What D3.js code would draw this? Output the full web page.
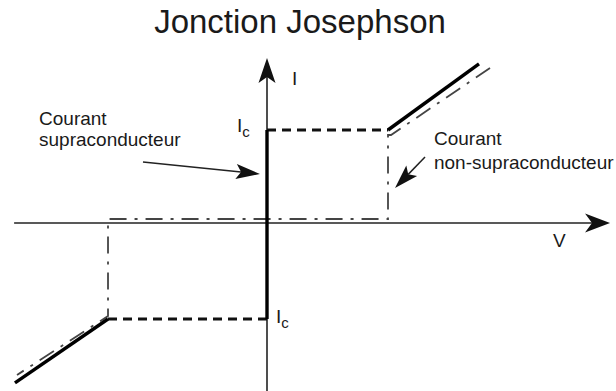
<!DOCTYPE html>
<html>
<head>
<meta charset="utf-8">
<script src="https://cdn.jsdelivr.net/npm/d3@7"></script>
<style>
  body { margin: 0; background: #fff; }
  svg { display: block; }
  text { font-family: "Liberation Sans", Arial, sans-serif; fill: #1a1a1a; }
</style>
</head>
<body>
<svg id="chart" width="616" height="391"></svg>
<script>
// Josephson junction I-V characteristic.
// Units are normalized: V in units of the gap voltage, I in units of Ic.
const title = "Jonction Josephson";

const vAxisExtent = [-2.09, 2.835];
const iAxisExtent = [-1.81, 1.774];

// zero-voltage supercurrent branch
const superBranch = [[0, -1.032], [0, 1]];
// critical-current switching (dashed)
const icUpper = [[0, 1], [1, 1]];
const icLower = [[-1.314, -1.032], [0, -1.032]];
// ohmic quasiparticle branches (solid)
const ohmicUpper = [[1, 1], [1.752, 1.71]];
const ohmicLower = [[-1.314, -1.032], [-2.083, -1.72]];
// quasiparticle (non-superconducting) curve, dash-dot
const quasiBranch = [
  [1.843, 1.667], [1.025, 0.946], [1, 0.946], [1, 0.043],
  [-1.314, 0.043], [-1.314, -1.0], [-2.066, -1.634]
];

// annotation arrows: [start, tip]
const arrowSuper = [[-1.025, 0.656], [-0.058, 0.527]];
const arrowNormal = [[1.306, 0.71], [1.058, 0.376]];

// labels: position in (V, I), line spacing, lines
const labelSuper = { v: -1.884, i: 1.054, gap: 21, lines: ["Courant", "supraconducteur"] };
const labelNormal = { v: 1.38, i: 0.839, gap: 24, lines: ["Courant", "non-supraconducteur"] };
const axisLabelI = { v: 0.207, i: 1.484, text: "I" };
const axisLabelV = { v: 2.364, i: -0.258, text: "V" };
const icLabels = [
  { v: -0.248, i: 0.98, main: "I", sub: "c" },
  { v: 0.074, i: -1.078, main: "I", sub: "c" }
];

const svg = d3.select("#chart");

const x = d3.scaleLinear().domain([0, 1]).range([267, 388]);
const y = d3.scaleLinear().domain([0, 1]).range([223, 130]);

const line = d3.line().x(d => x(d[0])).y(d => y(d[1]));

// title
svg.append("text")
  .attr("x", 300).attr("y", 33)
  .attr("text-anchor", "middle")
  .style("font-size", "33px")
  .text(title);

// arrowhead polygon with notched back
function arrowHead(from, tip, len, half, notch) {
  const dx = tip[0] - from[0], dy = tip[1] - from[1];
  const m = Math.hypot(dx, dy);
  const ux = dx / m, uy = dy / m, nx = -uy, ny = ux;
  const bx = tip[0] - len * ux, by = tip[1] - len * uy;
  return [
    [tip[0], tip[1]],
    [bx + half * nx, by + half * ny],
    [tip[0] - (len - notch) * ux, tip[1] - (len - notch) * uy],
    [bx - half * nx, by - half * ny]
  ];
}

const axes = svg.append("g");
// V axis
axes.append("line")
  .attr("x1", x(vAxisExtent[0])).attr("x2", x(vAxisExtent[1]) - 10)
  .attr("y1", y(0)).attr("y2", y(0))
  .attr("stroke", "#222").attr("stroke-width", 1.6);
// I axis
axes.append("line")
  .attr("x1", x(0)).attr("x2", x(0))
  .attr("y1", y(iAxisExtent[0])).attr("y2", y(iAxisExtent[1]) + 10)
  .attr("stroke", "#222").attr("stroke-width", 1.6);

axes.append("polygon")
  .attr("points", arrowHead([x(0), y(0)], [x(vAxisExtent[1]), y(0)], 25, 9.5, 7).join(" "))
  .attr("fill", "#111");
axes.append("polygon")
  .attr("points", arrowHead([x(0), y(0)], [x(0), y(iAxisExtent[1])], 25, 8.5, 6).join(" "))
  .attr("fill", "#111");

// quasiparticle curve
svg.append("path").datum(quasiBranch)
  .attr("d", line).attr("fill", "none")
  .attr("stroke", "#444").attr("stroke-width", 1.8)
  .attr("stroke-dasharray", "17,8,3,8");

// switching lines
[icUpper, icLower].forEach(seg => {
  svg.append("path").datum(seg)
    .attr("d", line).attr("fill", "none")
    .attr("stroke", "#111").attr("stroke-width", 3)
    .attr("stroke-dasharray", "9,6");
});

// solid branches
[superBranch, ohmicUpper, ohmicLower].forEach(seg => {
  svg.append("path").datum(seg)
    .attr("d", line).attr("fill", "none")
    .attr("stroke", "#000").attr("stroke-width", 3.4)
    .attr("stroke-linecap", "butt");
});

// annotation arrows
[arrowSuper, arrowNormal].forEach(a => {
  const p0 = [x(a[0][0]), y(a[0][1])];
  const p1 = [x(a[1][0]), y(a[1][1])];
  const head = arrowHead(p0, p1, 24, 7.5, 5);
  svg.append("line")
    .attr("x1", p0[0]).attr("y1", p0[1])
    .attr("x2", head[2][0]).attr("y2", head[2][1])
    .attr("stroke", "#222").attr("stroke-width", 1.5);
  svg.append("polygon").attr("points", head.join(" ")).attr("fill", "#111");
});

// text labels
[labelSuper, labelNormal].forEach(l => {
  const t = svg.append("text")
    .attr("x", x(l.v)).attr("y", y(l.i))
    .style("font-size", "19px");
  l.lines.forEach((s, k) => {
    t.append("tspan").attr("x", x(l.v)).attr("dy", k ? l.gap : 0).text(s);
  });
});

[axisLabelI, axisLabelV].forEach(l => {
  svg.append("text")
    .attr("x", x(l.v)).attr("y", y(l.i))
    .style("font-size", "19px")
    .text(l.text);
});

icLabels.forEach(l => {
  const t = svg.append("text")
    .attr("x", x(l.v)).attr("y", y(l.i))
    .style("font-size", "19px");
  t.append("tspan").text(l.main);
  t.append("tspan").attr("dy", 5).style("font-size", "15px").text(l.sub);
});
</script>
</body>
</html>
